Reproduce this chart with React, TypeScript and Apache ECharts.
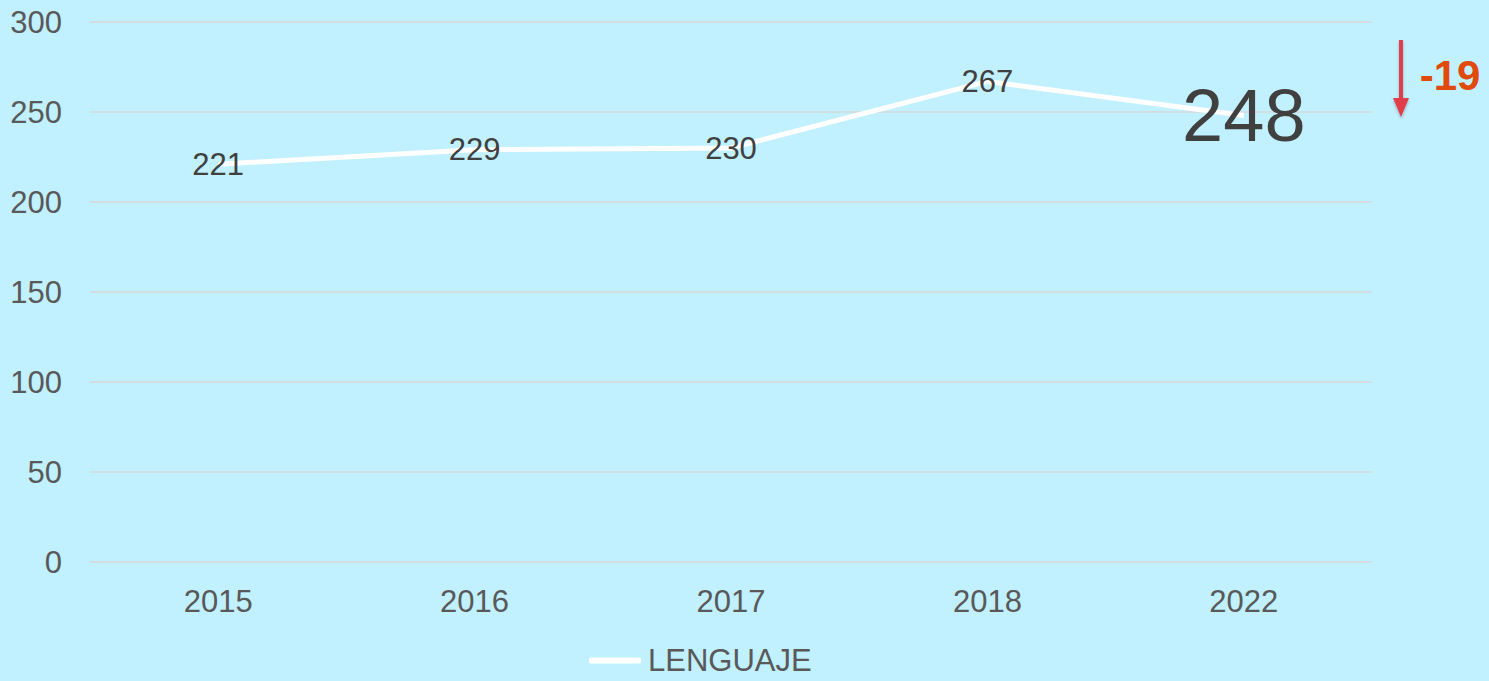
import React, { useEffect, useRef } from "react";
import * as echarts from "echarts";

const categories = ["2015", "2016", "2017", "2018", "2022"];
const lenguaje = [221, 229, 230, 267, 248];
const yTicks = { min: 0, max: 300, interval: 50 };
const deltaText = "-19";
const seriesName = "LENGUAJE";

export default function App() {
  const ref = useRef<HTMLDivElement>(null);
  useEffect(() => {
    if (!ref.current) return;
    const chart = echarts.init(ref.current, null, { renderer: "svg" });
    const last = lenguaje.length - 1;
    const font = "Liberation Sans, Arial, sans-serif";
    chart.setOption({
      animation: false,
      backgroundColor: "#C1F0FE",
      textStyle: { fontFamily: font },
      grid: { left: 90, right: 117, top: 22, bottom: 119, containLabel: false },
      legend: {
        bottom: 0,
        left: 584,
        data: [seriesName],
        itemWidth: 52,
        itemHeight: 6,
        itemGap: 4,
        itemStyle: { color: "#FFFFFF", opacity: 1 },
        textStyle: { color: "#595959", fontSize: 31, fontFamily: font, padding: [0, 0, 0, 2] },
        icon: "roundRect",
      },
      xAxis: {
        type: "category",
        data: categories,
        axisLine: { show: false },
        axisTick: { show: false },
        axisLabel: { color: "#595959", fontSize: 31, margin: 24 },
      },
      yAxis: {
        type: "value",
        min: yTicks.min,
        max: yTicks.max,
        interval: yTicks.interval,
        axisLine: { show: false },
        axisTick: { show: false },
        axisLabel: { color: "#595959", fontSize: 31, margin: 28 },
        splitLine: { lineStyle: { color: "#D9D9D9", width: 1.5 } },
      },
      series: [
        {
          name: seriesName,
          type: "line",
          data: lenguaje.map((v, i) =>
            i === last ? { value: v, label: { fontSize: 74 } } : v
          ),
          symbol: "circle",
          symbolSize: 1,
          showSymbol: true,
          lineStyle: { color: "#FFFFFF", width: 5 },
          itemStyle: { color: "#FFFFFF", opacity: 0 },
          label: {
            show: true,
            position: "inside",
            color: "#404040",
            fontSize: 31,
            opacity: 1,
          },
        },
      ],
      graphic: [
        {
          type: "rect",
          shape: { x: 1399, y: 40, width: 4, height: 62 },
          style: { fill: "#E23C4B", shadowColor: "rgba(0,0,0,0.25)", shadowBlur: 3, shadowOffsetY: 2 },
        },
        {
          type: "polygon",
          shape: { points: [[1393, 98], [1409, 98], [1401, 117]] },
          style: { fill: "#E23C4B", shadowColor: "rgba(0,0,0,0.25)", shadowBlur: 3, shadowOffsetY: 2 },
        },
        {
          type: "text",
          x: 1450,
          y: 75,
          style: {
            text: deltaText,
            fill: "#E04A0B",
            font: "bold 42px " + font,
            align: "center",
            verticalAlign: "middle",
          },
        },
      ],
    });
    return () => chart.dispose();
  }, []);
  return (
    <div
      ref={ref}
      style={{ position: "fixed", left: 0, top: 0, width: 1489, height: 681 }}
    />
  );
}
